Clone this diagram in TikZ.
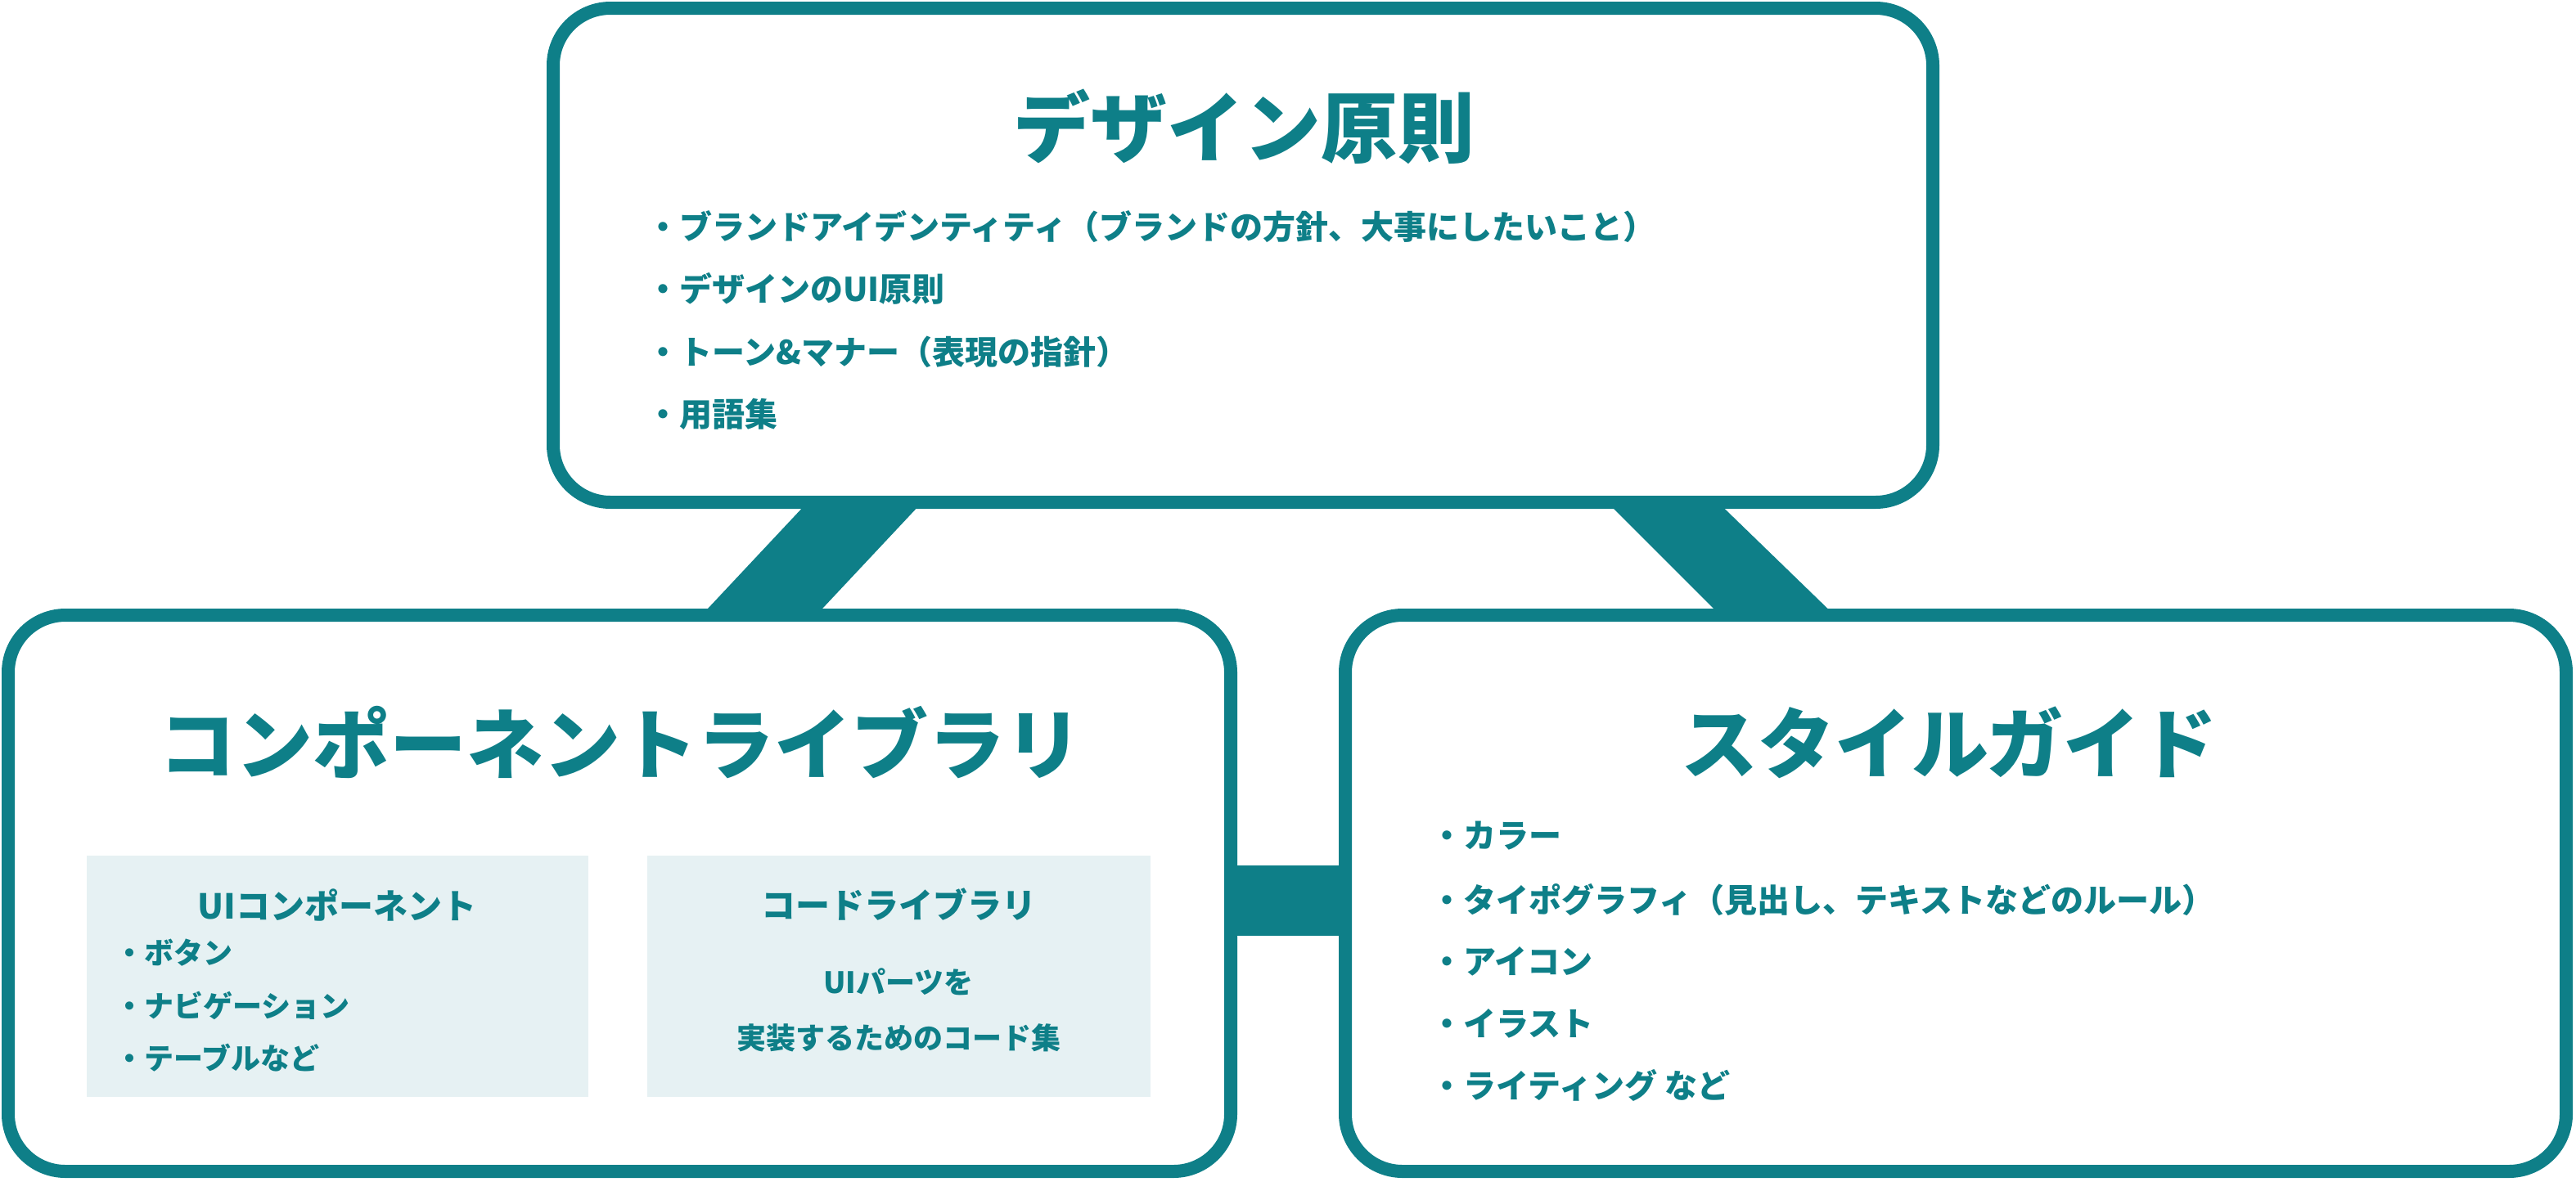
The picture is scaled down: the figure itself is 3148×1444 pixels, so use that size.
\documentclass[tikz,border=0pt]{standalone}
\usepackage{fontspec}
\setmainfont{Noto Sans CJK JP}
\definecolor{teal1}{HTML}{0E7F88}
\definecolor{pale}{HTML}{E6F1F3}
\begin{document}
\begin{tikzpicture}[x=1pt,y=-1pt,
  box/.style={draw=teal1,line width=16pt,rounded corners=70pt,fill=white},
  inner/.style={fill=pale},
  txt/.style={text=teal1,font=\bfseries,inner sep=0pt},
  bt/.style={txt,anchor=west,font=\fontsize{40}{48}\selectfont\bfseries},
  ib/.style={txt,anchor=west,font=\fontsize{36}{44}\selectfont\bfseries}]
\useasboundingbox (0,0) rectangle (3148,1444);
% connectors
\fill[teal1] (1000,600) -- (1140,600) -- (990,760) -- (850,760) -- cycle;
\fill[teal1] (1950,600) -- (2085,600) -- (2250,760) -- (2110,760) -- cycle;
\fill[teal1] (1490,1058) rectangle (1660,1144);
% boxes
\draw[box] (676,10) rectangle (2362,614);
\draw[box] (10,752) rectangle (1504,1432);
\draw[box] (1644,752) rectangle (3136,1432);
\node[txt,font=\fontsize{94}{110}\selectfont\bfseries] (t1) at (1520,155) {デザイン原則};
\node[bt] (a1) at (790,277) {・ブランドアイデンティティ（ブランドの方針、大事にしたいこと）};
\node[bt] (a2) at (790,353) {・デザインのUI原則};
\node[bt] (a3) at (790,430) {・トーン\&マナー（表現の指針）};
\node[bt] (a4) at (790,506) {・用語集};
\node[txt,font=\fontsize{94}{110}\selectfont\bfseries] (t2) at (758,908) {コンポーネントライブラリ};
\node[txt,font=\fontsize{94}{110}\selectfont\bfseries] (t3) at (2382,908) {スタイルガイド};
\fill[inner] (106,1046) rectangle (719,1341);
\fill[inner] (791,1046) rectangle (1406,1341);
\node[txt,font=\fontsize{42}{50}\selectfont\bfseries] (u1) at (412,1106) {UIコンポーネント};
\node[ib] (b1) at (140,1165) {・ボタン};
\node[ib] (b2) at (140,1229) {・ナビゲーション};
\node[ib] (b3) at (140,1293) {・テーブルなど};
\node[txt,font=\fontsize{42}{50}\selectfont\bfseries] (u2) at (1098,1106) {コードライブラリ};
\node[txt,font=\fontsize{36}{44}\selectfont\bfseries] (c1) at (1098,1200) {UIパーツを};
\node[txt,font=\fontsize{36}{44}\selectfont\bfseries] (c2) at (1098,1269) {実装するためのコード集};
\node[bt] (s1) at (1748,1022) {・カラー};
\node[bt] (s2) at (1748,1100) {・タイポグラフィ（見出し、テキストなどのルール）};
\node[bt] (s3) at (1748,1175) {・アイコン};
\node[bt] (s4) at (1748,1251) {・イラスト};
\node[bt] (s5) at (1748,1327) {・ライティング など};
\end{tikzpicture}
\end{document}
